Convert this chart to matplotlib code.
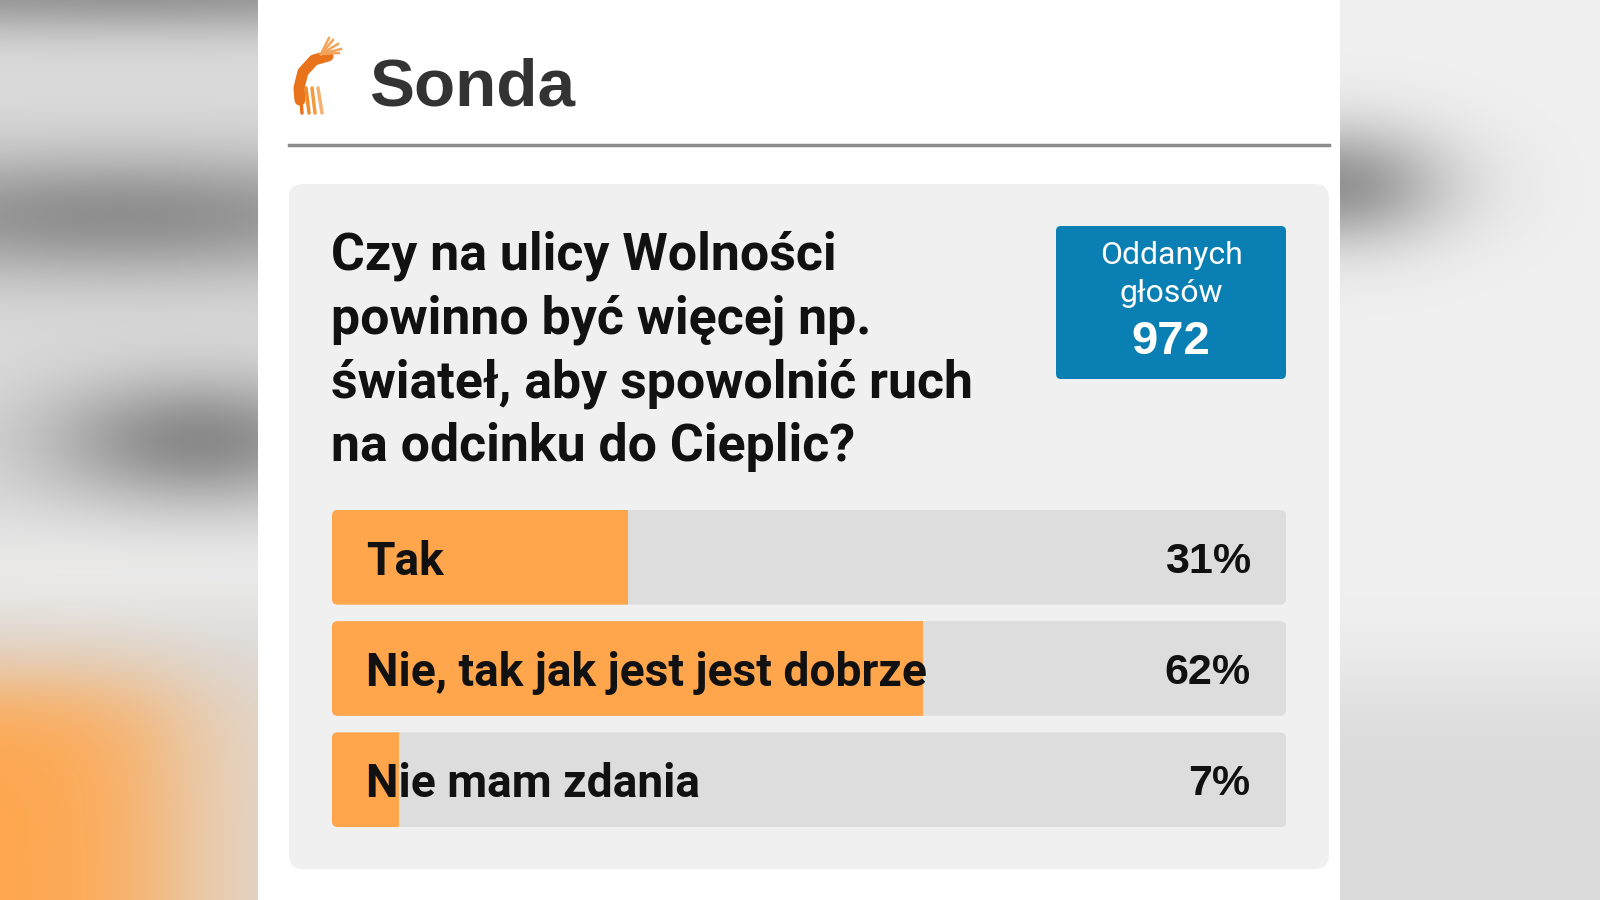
import matplotlib
matplotlib.use("Agg")
import matplotlib.pyplot as plt
from matplotlib.patches import FancyBboxPatch
import numpy as np

# Dane sondy
title = "Sonda"
question = ["Czy na ulicy Wolności", "powinno być więcej np.",
            "świateł, aby spowolnić ruch", "na odcinku do Cieplic?"]
answers = ["Tak", "Nie, tak jak jest jest dobrze", "Nie mam zdania"]
percents = [31, 62, 7]
votes_label = ["Oddanych", "głosów"]
votes_total = 972

ORANGE = "#ffa54c"
TRACK = "#dddddd"
CARD = "#f0f0f0"
BLUE = "#0a7fb3"

fig = plt.figure(figsize=(16, 9), dpi=100)
ax = fig.add_axes([0, 0, 1, 1])
ax.set_xlim(0, 1600)
ax.set_ylim(900, 0)
ax.axis("off")

# Rozmyte tło po bokach (zrzut ekranu)
yy, xx = np.mgrid[0:900, 0:1600].astype(float)
bg = np.ones((900, 1600, 3))


def blob(cx, cy, sx, sy):
    return np.exp(-((xx - cx) ** 2) / (2 * sx ** 2) - ((yy - cy) ** 2) / (2 * sy ** 2))


left = np.full((900, 1600), 0.86)
left -= 0.28 * blob(130, -10, 400, 30)
left -= 0.30 * blob(120, 215, 260, 45)
left -= 0.32 * blob(200, 440, 110, 45)
left += 0.06 * blob(130, 570, 400, 40)
left = np.clip(left, 0, 1)
orange_w = 1 / (1 + np.exp(-(yy - 680) / 25))
side_w = 1 / (1 + np.exp(-(170 - xx) / 45))
orange = np.array([1.0, 0.65, 0.30])
fade = np.array([0.88, 0.85, 0.82])
mix = side_w[..., None] * orange + (1 - side_w[..., None]) * fade
left_rgb = np.repeat(left[..., None], 3, axis=2)
left_rgb = left_rgb * (1 - orange_w[..., None]) + mix * orange_w[..., None]

right = np.full((900, 1600), 0.94)
right -= 0.36 * blob(1335, 185, 80, 42)
right -= 0.08 / (1 + np.exp(-(yy - 680) / 25))
right_rgb = np.repeat(np.clip(right, 0, 1)[..., None], 3, axis=2)

bg[:, :258] = left_rgb[:, :258]
bg[:, 1340:] = right_rgb[:, 1340:]
ax.imshow(bg, extent=(0, 1600, 900, 0), interpolation="bilinear", zorder=0)

# Logo (stylizowany jeleń)
ax.plot([328, 314, 303, 299, 300], [56, 60, 72, 88, 100], color="#e8731a", lw=8,
        solid_capstyle="round", zorder=3)
for x0, x1, c in [(300, 302, "#e8731a"), (306, 309, "#f08a2a"),
                  (312, 315, "#f39a3c"), (318, 322, "#f6b070")]:
    ax.plot([x0, x1], [88, 113], color=c, lw=2.5, solid_capstyle="round", zorder=3)
for dx, dy in [(12, -14), (17, -10), (20, -5), (8, -16), (18, -1)]:
    ax.plot([321, 321 + dx], [54, 54 + dy], color="#f3a45a", lw=1.8, zorder=3)

ax.text(369, 88, title, fontsize=48.5, fontweight="bold", family="Liberation Sans",
        color="#333333", va="center", ha="left", zorder=3)
ax.plot([289, 1329], [145, 145], color="#8c8c8c", lw=2.5, zorder=3)

# Karta z pytaniem
card = FancyBboxPatch((289, 184), 1040, 685, boxstyle="round,pad=0,rounding_size=14",
                      facecolor=CARD, edgecolor="none", zorder=1)
ax.add_patch(card)

line_y = [256, 320, 384, 447]
for txt, y in zip(question, line_y):
    ax.text(331, y, txt, fontsize=37.4, fontweight="bold", family="Roboto",
            color="#111111", va="center", ha="left", zorder=3)

box = FancyBboxPatch((1056, 226), 230, 153, boxstyle="round,pad=0,rounding_size=5",
                     facecolor=BLUE, edgecolor="none", zorder=2)
ax.add_patch(box)
ax.text(1171, 256, votes_label[0], fontsize=23, family="Roboto", color="white",
        ha="center", va="center", zorder=3)
ax.text(1171, 294, votes_label[1], fontsize=23, family="Roboto", color="white",
        ha="center", va="center", zorder=3)
ax.text(1171, 342, str(votes_total), fontsize=34, fontweight="bold",
        family="Liberation Sans", color="white", ha="center", va="center", zorder=3)

# Paski wyników
bx = fig.add_axes([332 / 1600, 1 - 827 / 900, 954 / 1600, 317 / 900])
bx.set_xlim(0, 100)
h = 94 / 110.5
bx.set_ylim(len(answers) - 1 + h / 2, -h / 2)
bx.axis("off")
bx.patch.set_alpha(0)

pos = np.arange(len(answers))
tracks = bx.barh(pos, [100] * len(answers), height=h, color=TRACK, zorder=1)
fills = bx.barh(pos, percents, height=h, color=ORANGE, zorder=2)

xpx = 954 / 100
ypx = 110.5
for t, f in zip(tracks, fills):
    x0, y0 = t.get_x(), t.get_y()
    w, hh = t.get_width(), t.get_height()
    r = FancyBboxPatch((x0, y0), w, hh, boxstyle="round,pad=0,rounding_size=0.6",
                       mutation_aspect=xpx / ypx, facecolor=TRACK, edgecolor="none", zorder=1)
    bx.add_patch(r)
    t.set_visible(False)
    f.set_clip_path(r)

for i, (lab, p) in enumerate(zip(answers, percents)):
    bx.text(3.6, i + 0.04, lab, fontsize=33.2, fontweight="bold", family="Roboto",
            color="#111111", ha="left", va="center", zorder=3)
    bx.text(96.3, i + 0.04, f"{p}%", fontsize=31, fontweight="bold", family="Liberation Sans",
            color="#111111", ha="right", va="center", zorder=3)

fig.savefig("out.png", dpi=100)
